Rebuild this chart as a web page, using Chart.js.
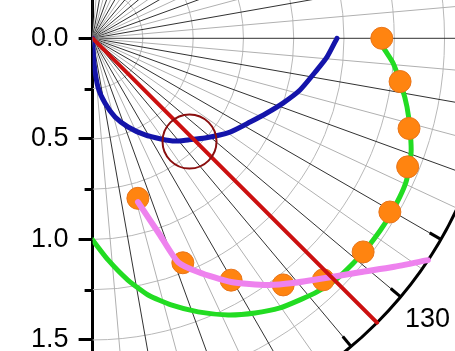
<!DOCTYPE html>
<html>
<head>
<meta charset="utf-8">
<script src="https://cdn.jsdelivr.net/npm/chart.js@4.4.1/dist/chart.umd.min.js"></script>
<style>
  html, body { margin: 0; padding: 0; background: #fff; }
  #wrap { width: 455px; height: 351px; position: relative; }
</style>
</head>
<body>
<div id="wrap"><canvas id="polarChart"></canvas></div>
<script>
// Datos en coordenadas polares: angulo (grados, horario desde arriba) y radio
const blueTheta = [180, 176.8, 173.7, 169.2, 164.1, 158.2, 151.5, 145.8, 141.3, 136.8, 131.6, 124.3, 118, 113.2, 108.8, 104, 98, 94.6, 90];
const blueR = [0, 0.123, 0.244, 0.328, 0.407, 0.475, 0.547, 0.605, 0.655, 0.693, 0.747, 0.827, 0.887, 0.943, 1.0, 1.063, 1.127, 1.169, 1.215];

const greenTheta = [180, 176.0, 171.7, 167.8, 163.6, 158.9, 153.9, 149.4, 145.2, 141.6, 138.5, 134.7, 130.8, 127.6, 123.7, 121.0, 117.3, 114.3, 109.8, 106.1, 102.3, 99.0, 94.7, 91.7, 90];
const greenR = [1.003, 1.105, 1.215, 1.306, 1.382, 1.458, 1.532, 1.587, 1.633, 1.660, 1.684, 1.704, 1.712, 1.717, 1.720, 1.721, 1.719, 1.713, 1.683, 1.643, 1.600, 1.557, 1.499, 1.445, 1.434];

const orangeTheta = [90, 98.0, 105.9, 112.2, 120.3, 128.3, 136.3, 142.3, 150.2, 158.1, 164.2];
const orangeR = [1.438, 1.544, 1.636, 1.692, 1.712, 1.714, 1.661, 1.550, 1.386, 1.203, 0.827];

const violetTheta = [164.5, 161.1, 159.1, 155.7, 150.4, 144.6, 140.7, 135.6, 131.2, 127.3, 123.5];
const violetR = [0.845, 1.034, 1.191, 1.275, 1.394, 1.505, 1.573, 1.667, 1.766, 1.877, 1.999];

const redTheta = [135, 135];
const redR = [0, 2.0];

const markerTheta = [136.8];
const markerR = [0.704];

// Ejes
const radialTicks = [0, 0.5, 1.0, 1.5];
const radialMinorTicks = [0.25, 0.75, 1.25];
const radialMax = 2.0;
const circleStep = 0.25;
const angleTicks = [0, 10, 20, 30, 40, 50, 60, 70, 80, 90, 100, 110, 120, 130, 140, 150, 160, 170, 180];
const angleMinorStep = 5;

// Ventana visible (unidades de radio)
const xMin = 0, xMax = 1.802;
const yMin = -0.1905, yMax = 1.555;

const FONT = 'Liberation Sans, Arial, sans-serif';

// Convertir (angulo, radio) a x/y del grafico
function toXY(thetaArr, rArr) {
    return thetaArr.map(function(t, i) {
        const a = t * Math.PI / 180;
        return { x: rArr[i] * Math.sin(a), y: -rArr[i] * Math.cos(a) };
    });
}

// Plugin para la rejilla polar y el eje angular
const polarGrid = {
    id: 'polarGrid',
    beforeDatasetsDraw(chart) {
        const { ctx, scales: { x, y } } = chart;
        const cx = x.getPixelForValue(0);
        const cy = y.getPixelForValue(0);
        const k = x.getPixelForValue(1) - cx;
        const toCanvas = d => (d - 90) * Math.PI / 180;
        const R = radialMax * k;

        ctx.save();

        // circulos
        ctx.strokeStyle = '#b8b8b8';
        ctx.lineWidth = 1;
        const nCircles = Math.round(radialMax / circleStep);
        for (let i = 1; i < nCircles; i++) {
            ctx.beginPath();
            ctx.arc(cx, cy, i * circleStep * k, toCanvas(0), toCanvas(180));
            ctx.stroke();
        }

        // radios
        for (let a = 0; a < 180; a += angleMinorStep) {
            const major = a % 10 === 0;
            const rad = a * Math.PI / 180;
            ctx.strokeStyle = major ? '#1a1a1a' : '#b0b0b0';
            ctx.lineWidth = major ? 0.9 : 1;
            ctx.beginPath();
            ctx.moveTo(cx, cy);
            ctx.lineTo(cx + R * Math.sin(rad), cy - R * Math.cos(rad));
            ctx.stroke();
        }

        // eje angular
        ctx.strokeStyle = '#000';
        ctx.lineWidth = 3;
        ctx.beginPath();
        ctx.arc(cx, cy, R, toCanvas(0), toCanvas(180));
        ctx.stroke();

        ctx.lineCap = 'butt';
        ctx.font = '27px ' + FONT;
        ctx.fillStyle = '#000';
        ctx.textAlign = 'center';
        ctx.textBaseline = 'middle';
        angleTicks.forEach(function(a) {
            const rad = a * Math.PI / 180;
            const sx = Math.sin(rad), sy = -Math.cos(rad);
            ctx.beginPath();
            ctx.moveTo(cx + R * sx, cy + R * sy);
            ctx.lineTo(cx + (R - 13) * sx, cy + (R - 13) * sy);
            ctx.stroke();

            const lx = cx + (R + 35) * sx, ly = cy + (R + 35) * sy;
            const label = String(a);
            const hw = ctx.measureText(label).width / 2;
            if (lx - hw >= 0 && lx + hw <= chart.width && ly - 13 >= 0 && ly + 13 <= chart.height) {
                ctx.fillText(label, lx, ly);
            }
        });

        ctx.restore();
    },
    afterDraw(chart) {
        // marcas menores del eje radial
        const { ctx, scales: { y } } = chart;
        ctx.save();
        ctx.strokeStyle = '#000';
        ctx.lineWidth = 3;
        radialMinorTicks.forEach(function(v) {
            const py = Math.round(y.getPixelForValue(v)) + 0.5;
            ctx.beginPath();
            ctx.moveTo(y.right - 8, py);
            ctx.lineTo(y.right, py);
            ctx.stroke();
        });
        ctx.restore();
    }
};

document.addEventListener('DOMContentLoaded', function() {
    const ctx = document.getElementById('polarChart').getContext('2d');

    const lineDefaults = {
        showLine: true,
        pointRadius: 0,
        fill: false,
        tension: 0.2,
        borderCapStyle: 'round',
        borderJoinStyle: 'round'
    };

    new Chart(ctx, {
        type: 'scatter',
        data: {
            datasets: [
                {
                    label: 'Marca',
                    data: toXY(markerTheta, markerR),
                    showLine: false,
                    pointStyle: 'circle',
                    pointRadius: 27,
                    backgroundColor: 'rgba(0,0,0,0)',
                    borderColor: '#8a0f0f',
                    pointBorderWidth: 2
                },
                Object.assign({}, lineDefaults, {
                    label: 'Rojo',
                    data: toXY(redTheta, redR),
                    borderColor: '#cc1010',
                    borderWidth: 4,
                    tension: 0
                }),
                Object.assign({}, lineDefaults, {
                    label: 'Azul',
                    data: toXY(blueTheta, blueR),
                    borderColor: '#1414aa',
                    borderWidth: 5
                }),
                Object.assign({}, lineDefaults, {
                    label: 'Violeta',
                    data: toXY(violetTheta, violetR),
                    borderColor: '#ee82ee',
                    borderWidth: 6
                }),
                {
                    label: 'Naranja',
                    data: toXY(orangeTheta, orangeR),
                    showLine: false,
                    pointStyle: 'circle',
                    pointRadius: 11,
                    backgroundColor: '#ff8410',
                    borderColor: '#e8741a',
                    pointBorderWidth: 1
                },
                Object.assign({}, lineDefaults, {
                    label: 'Verde',
                    data: toXY(greenTheta, greenR),
                    borderColor: '#22dc22',
                    borderWidth: 5
                })
            ]
        },
        options: {
            responsive: true,
            maintainAspectRatio: false,
            animation: false,
            layout: { padding: 0, autoPadding: false },
            plugins: {
                legend: { display: false },
                tooltip: { enabled: false }
            },
            scales: {
                x: {
                    type: 'linear',
                    display: false,
                    min: xMin,
                    max: xMax
                },
                y: {
                    type: 'linear',
                    reverse: true,
                    min: yMin,
                    max: yMax,
                    border: { display: true, color: '#000', width: 3 },
                    grid: {
                        drawOnChartArea: false,
                        drawTicks: true,
                        tickLength: 14,
                        tickWidth: 3,
                        tickColor: '#000'
                    },
                    ticks: {
                        color: '#000',
                        padding: 10,
                        font: { family: FONT, size: 27 },
                        callback: function(value) {
                            return Number(value).toFixed(1);
                        }
                    },
                    afterBuildTicks: function(scale) {
                        scale.ticks = radialTicks.map(v => ({ value: v }));
                    },
                    afterFit: function(scale) {
                        scale.width = 92.6;
                        scale.paddingTop = 0;
                        scale.paddingBottom = 0;
                    }
                }
            }
        },
        plugins: [polarGrid]
    });
});
</script>
</body>
</html>
